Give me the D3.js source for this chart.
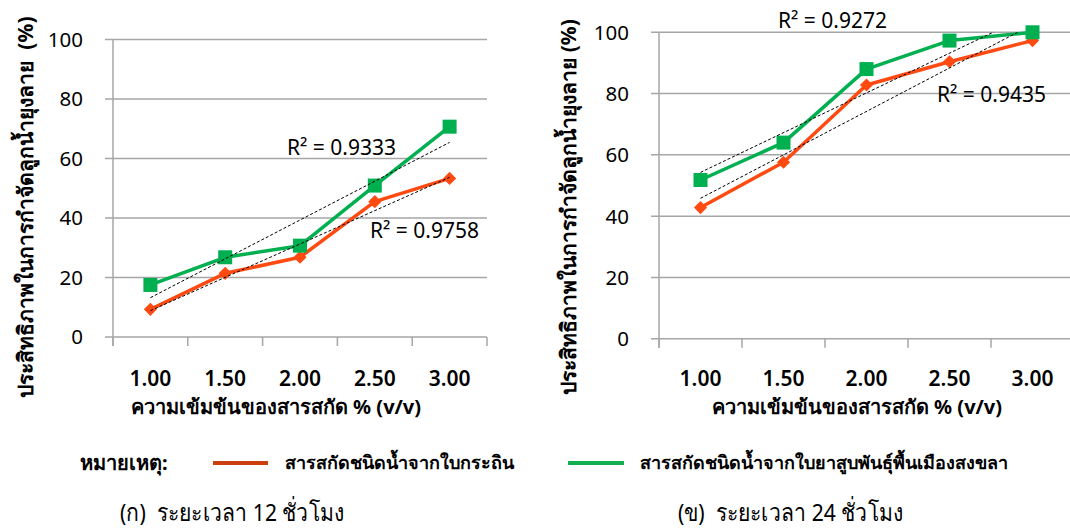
<!DOCTYPE html>
<html>
<head>
<meta charset="utf-8">
<script src="https://cdn.jsdelivr.net/npm/d3@7"></script>
<style>
  body { margin: 0; background: #fff; }
  svg { display: block; font-family: "Noto Sans", Tahoma, sans-serif; }
  text { white-space: pre; }
</style>
</head>
<body>
<div id="chart"></div>
<script>
const W = 1070, H = 528;

// data
const concentrations = ["1.00", "1.50", "2.00", "2.50", "3.00"];
const yTicks = [0, 20, 40, 60, 80, 100];
const leucaena12 = [9.3, 21.4, 26.8, 45.5, 53.3];
const tobacco12 = [17.5, 26.8, 30.7, 50.9, 70.7];
const leucaena24 = [42.8, 57.6, 82.8, 90.4, 97.3];
const tobacco24 = [51.8, 64.0, 88.0, 97.3, 100];
const r2Labels12 = ["R² = 0.9758", "R² = 0.9333"];
const r2Labels24 = ["R² = 0.9435", "R² = 0.9272"];
const seriesNames = ["สารสกัดชนิดน้ำจากใบกระถิน", "สารสกัดชนิดน้ำจากใบยาสูบพันธุ์พื้นเมืองสงขลา"];
const captions = ["(ก)  ระยะเวลา 12 ชั่วโมง", "(ข)  ระยะเวลา 24 ชั่วโมง"];
const yTitles = ["ประสิทธิภาพในการกำจัดลูกน้ำยุงลาย  (%)", "ประสิทธิภาพในการกำจัดลูกน้ำยุงลาย (%)"];
const xTitle = "ความเข้มข้นของสารสกัด % (v/v)";

const red = "#ff4a12", green = "#00b050";
const legendRed = "#cc3d10", legendGreen = "#14ad50";
const gridColor = "#a6a6a6";

const svg = d3.select("#chart").append("svg")
    .attr("width", W)
    .attr("height", H);

const panels = [
    { id: "p12", x0: 113, x1: 487, y0: 39.5, y1: 337, red: leucaena12, green: tobacco12,
      r2: r2Labels12, r2pos: [[370, 230], [287, 147]], yTitle: yTitles[0], yTitleX: 25, xTitleX: 276 },
    { id: "p24", x0: 659, x1: 1074, y0: 32.3, y1: 338.7, red: leucaena24, green: tobacco24,
      r2: r2Labels24, r2pos: [[937, 94], [778, 20]], yTitle: yTitles[1], yTitleX: 568, xTitleX: 857 }
];

function fit(vals) {
    const n = vals.length;
    const mx = d3.mean(vals, (d, i) => i);
    const my = d3.mean(vals);
    let sxy = 0, sxx = 0;
    vals.forEach((v, i) => { sxy += (i - mx) * (v - my); sxx += (i - mx) * (i - mx); });
    const b = sxy / sxx;
    return [my - b * mx, my + b * (n - 1 - mx)];
}

panels.forEach(p => {
    const x = d3.scaleBand().domain(concentrations).range([p.x0, p.x1]);
    const y = d3.scaleLinear().domain([0, 100]).range([p.y1, p.y0]);
    const g = svg.append("g");

    // gridlines + y labels
    g.selectAll(".grid").data(yTicks).enter().append("line")
        .attr("x1", p.x0 - 8).attr("x2", p.x1)
        .attr("y1", d => y(d)).attr("y2", d => y(d))
        .attr("stroke", gridColor).attr("stroke-width", 1.5);

    g.selectAll(".ylab").data(yTicks).enter().append("text")
        .attr("x", p.x0 - 30).attr("y", d => y(d))
        .attr("dy", "0.36em")
        .attr("text-anchor", "end")
        .attr("font-size", 20.5)
        .attr("fill", "#000")
        .text(d => d);

    // axis lines
    g.append("line")
        .attr("x1", p.x0).attr("x2", p.x0).attr("y1", p.y0).attr("y2", p.y1 + 9)
        .attr("stroke", gridColor).attr("stroke-width", 1.5);
    const bounds = concentrations.map(c => x(c)).concat([p.x1]);
    g.selectAll(".xtick").data(bounds).enter().append("line")
        .attr("x1", d => d).attr("x2", d => d)
        .attr("y1", p.y1).attr("y2", p.y1 + 9)
        .attr("stroke", gridColor).attr("stroke-width", 1.5);

    g.selectAll(".xlab").data(concentrations).enter().append("text")
        .attr("x", d => x(d) + x.bandwidth() / 2)
        .attr("y", 378)
        .attr("dy", "0.36em")
        .attr("text-anchor", "middle")
        .attr("font-size", 21)
        .attr("font-weight", 600)
        .text(d => d);

    g.append("text")
        .attr("x", p.xTitleX).attr("y", 407)
        .attr("dy", "0.36em")
        .attr("text-anchor", "middle")
        .attr("font-size", 20)
        .attr("font-weight", "bold")
        .text(xTitle);

    g.append("text")
        .attr("transform", `translate(${p.yTitleX},${207}) rotate(-90)`)
        .attr("dy", "0.36em")
        .attr("text-anchor", "middle")
        .attr("font-size", 21)
        .attr("font-weight", "bold")
        .text(p.yTitle);

    const cx = i => x(concentrations[i]) + x.bandwidth() / 2;
    const line = d3.line().x((d, i) => cx(i)).y(d => y(d));

    // series
    [[p.red, red], [p.green, green]].forEach(([vals, col]) => {
        g.append("path").attr("d", line(vals))
            .attr("fill", "none").attr("stroke", col).attr("stroke-width", 3.5)
            .attr("stroke-linejoin", "round");
    });
    g.selectAll(".dia").data(p.red).enter().append("path")
        .attr("d", d3.symbol(d3.symbolDiamond2, 110))
        .attr("transform", (d, i) => `translate(${cx(i)},${y(d)})`)
        .attr("fill", red);
    g.selectAll(".sq").data(p.green).enter().append("rect")
        .attr("x", (d, i) => cx(i) - 7).attr("y", d => y(d) - 7)
        .attr("width", 14).attr("height", 14)
        .attr("fill", green);

    // linear trendlines, clipped to plot area
    svg.append("clipPath").attr("id", "clip-" + p.id)
        .append("rect").attr("x", p.x0).attr("y", p.y0)
        .attr("width", p.x1 - p.x0).attr("height", p.y1 - p.y0);
    [p.red, p.green].forEach(vals => {
        const [a, b] = fit(vals);
        g.append("line")
            .attr("clip-path", `url(#clip-${p.id})`)
            .attr("x1", cx(0)).attr("y1", y(a))
            .attr("x2", cx(vals.length - 1)).attr("y2", y(b))
            .attr("stroke", "#000").attr("stroke-width", 1)
            .attr("stroke-dasharray", "3,2");
    });

    p.r2.forEach((t, i) => {
        g.append("text")
            .attr("x", p.r2pos[i][0]).attr("y", p.r2pos[i][1])
            .attr("dy", "0.36em")
            .attr("font-size", 21)
            .text(t);
    });
});

// legend
const leg = svg.append("g").attr("font-weight", "bold").attr("font-size", 18);
leg.append("text").attr("x", 80).attr("y", 463).attr("dy", "0.36em")
    .attr("font-size", 20).text("หมายเหตุ:");
leg.append("line").attr("x1", 213).attr("x2", 268).attr("y1", 463).attr("y2", 463)
    .attr("stroke", legendRed).attr("stroke-width", 4);
leg.append("text").attr("x", 285).attr("y", 463).attr("dy", "0.36em").text(seriesNames[0]);
leg.append("line").attr("x1", 568).attr("x2", 624).attr("y1", 463).attr("y2", 463)
    .attr("stroke", legendGreen).attr("stroke-width", 4);
leg.append("text").attr("x", 640).attr("y", 463).attr("dy", "0.36em").text(seriesNames[1]);

// captions (reference uses a narrow Thai face, so squeeze horizontally)
svg.selectAll(".cap").data(captions).enter().append("text")
    .attr("transform", (d, i) => `translate(${[120, 678][i]},512) scale(0.88,1)`)
    .attr("dy", "0.36em")
    .attr("font-size", 24)
    .text(d => d);
</script>
</body>
</html>
